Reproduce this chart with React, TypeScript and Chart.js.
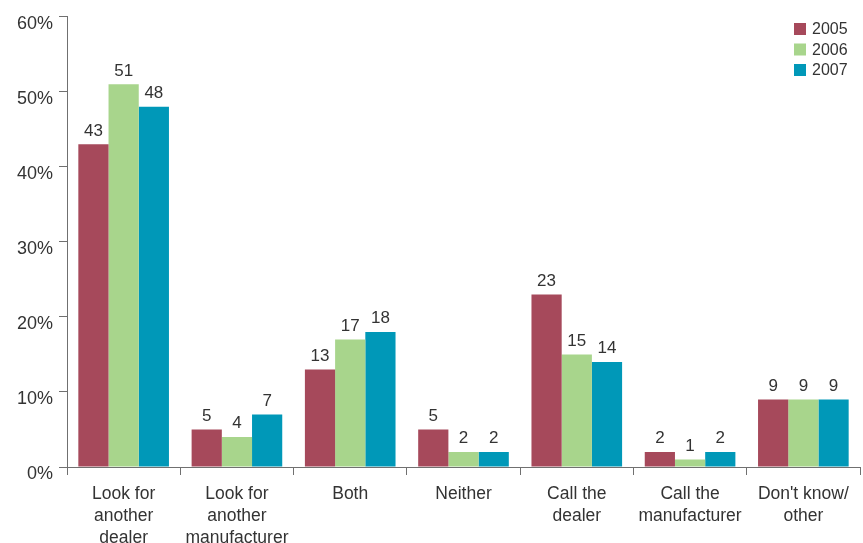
import React, { useEffect, useRef } from "react";
import { Chart, registerables } from "chart.js";

Chart.register(...registerables);

const categories: string[][] = [
  ["Look for", "another", "dealer"],
  ["Look for", "another", "manufacturer"],
  ["Both"],
  ["Neither"],
  ["Call the", "dealer"],
  ["Call the", "manufacturer"],
  ["Don't know/", "other"],
];
const values2005 = [43, 5, 13, 5, 23, 2, 9];
const values2006 = [51, 4, 17, 2, 15, 1, 9];
const values2007 = [48, 7, 18, 2, 14, 2, 9];
const seriesNames = ["2005", "2006", "2007"];
const seriesColors = ["#A6495B", "#A8D58C", "#0098B8"];
const yTicks = [0, 10, 20, 30, 40, 50, 60];

const FONT = "'Liberation Sans', Arial, Helvetica, sans-serif";
const TEXT = "#333333";
const AXIS = "#707070";

const labelsPlugin = {
  id: "valueLabels",
  afterDatasetsDraw(chart: any) {
    const ctx = chart.ctx;
    ctx.save();
    ctx.font = `17px ${FONT}`;
    ctx.fillStyle = TEXT;
    ctx.textAlign = "center";
    ctx.textBaseline = "bottom";
    chart.data.datasets.forEach((ds: any, i: number) => {
      const meta = chart.getDatasetMeta(i);
      meta.data.forEach((el: any, j: number) => {
        ctx.fillText(String(ds.data[j]), el.x, el.y - 5);
      });
    });
    ctx.restore();
  },
};

const legendPlugin = {
  id: "customLegend",
  afterDraw(chart: any) {
    const ctx = chart.ctx;
    ctx.save();
    ctx.font = `16px ${FONT}`;
    ctx.textBaseline = "middle";
    ctx.textAlign = "left";
    seriesNames.forEach((name, i) => {
      const y = 23 + i * 20.5;
      ctx.fillStyle = seriesColors[i];
      ctx.fillRect(794, y, 12, 12);
      ctx.fillStyle = TEXT;
      ctx.fillText(name, 812, y + 7);
    });
    ctx.restore();
  },
};

export default function App() {
  const ref = useRef<HTMLCanvasElement | null>(null);
  useEffect(() => {
    document.body.style.margin = "0";
    if (!ref.current) return;
    const chart = new Chart(ref.current, {
      type: "bar",
      data: {
        labels: categories,
        datasets: [values2005, values2006, values2007].map((d, i) => ({
          label: seriesNames[i],
          data: d,
          backgroundColor: seriesColors[i],
          borderWidth: 0,
          categoryPercentage: 0.8,
          barPercentage: 1.0,
        })),
      },
      options: {
        animation: false,
        responsive: false,
        maintainAspectRatio: false,
        layout: { padding: { top: 16, right: 3, left: 0, bottom: 0 } },
        plugins: {
          legend: { display: false },
          tooltip: { enabled: false },
        },
        scales: {
          x: {
            grid: {
              display: true,
              drawOnChartArea: false,
              drawTicks: true,
              tickLength: 8,
              color: AXIS,
              offset: true,
            },
            border: { display: true, color: AXIS, width: 1 },
            ticks: {
              color: TEXT,
              font: { family: FONT, size: 17.5, lineHeight: 22 / 17.5 },
              padding: 8,
              maxRotation: 0,
              autoSkip: false,
            },
            afterFit(scale: any) {
              scale.height = 76;
            },
          },
          y: {
            min: 0,
            max: 60,
            afterBuildTicks(scale: any) {
              scale.ticks = yTicks.map((v) => ({ value: v }));
            },
            grid: {
              display: true,
              drawOnChartArea: false,
              drawTicks: true,
              tickLength: 8,
              color: AXIS,
            },
            border: { display: true, color: AXIS, width: 1 },
            ticks: {
              color: TEXT,
              font: { family: FONT, size: 18 },
              padding: 6,
              labelOffset: 7,
              callback: (v: any) => `${v}%`,
            },
            afterFit(scale: any) {
              scale.width = 67;
            },
          },
        },
      },
      plugins: [labelsPlugin, legendPlugin],
    });
    return () => chart.destroy();
  }, []);
  return (
    <div style={{ width: 863, height: 543 }}>
      <canvas ref={ref} width={863} height={543} style={{ display: "block" }} />
    </div>
  );
}
